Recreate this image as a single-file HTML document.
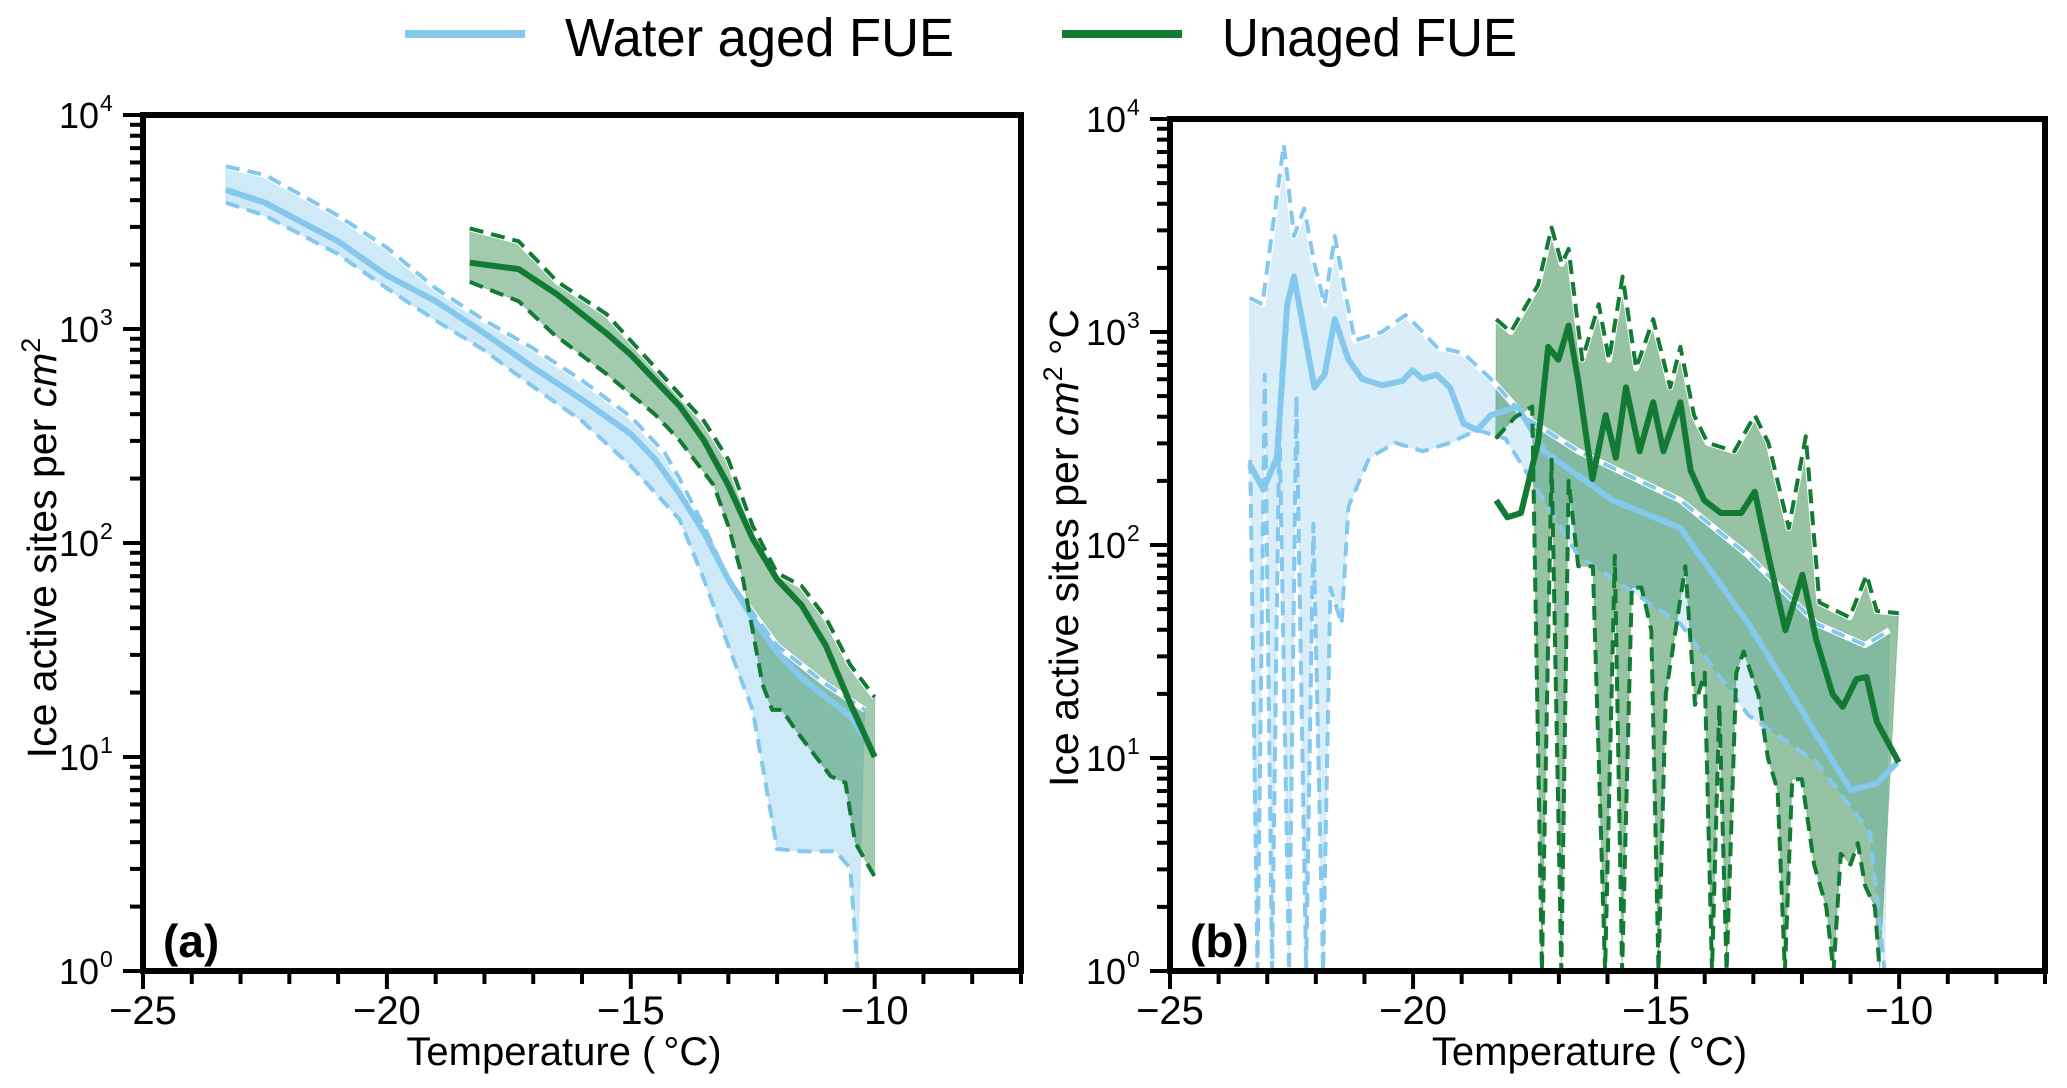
<!DOCTYPE html>
<html><head><meta charset="utf-8"><style>
html,body{margin:0;padding:0;background:#fff;}
svg{display:block;font-family:"Liberation Sans","DejaVu Sans",sans-serif;}
</style></head><body>
<svg id="fig" width="2067" height="1088" viewBox="0 0 2067 1088" xmlns="http://www.w3.org/2000/svg">
<g>
  <line x1="405" y1="34" x2="525" y2="34" stroke="#85c8ee" stroke-width="8"/>
  <text x="565" y="56" font-size="54" textLength="389" lengthAdjust="spacingAndGlyphs">Water aged FUE</text>
  <line x1="1062" y1="34" x2="1182" y2="34" stroke="#137a34" stroke-width="8"/>
  <text x="1222" y="56" font-size="54" textLength="295" lengthAdjust="spacingAndGlyphs">Unaged FUE</text>
</g>
<g id="pa"></g>
<g id="pb"></g>
</svg>
<script>
// ---------- data (log10 values; 0 => bottom of axis) ----------
const aBlueT   = [-23.3,-22.5,-21,-20,-19,-18,-17,-16,-15,-14.5,-14,-13.5,-13,-12.5,-12,-11.5,-11,-10.5,-10.2];
const aBlueMed = [3.65,3.59,3.41,3.25,3.13,2.98,2.82,2.67,2.51,2.39,2.23,2.05,1.83,1.65,1.49,1.37,1.28,1.19,1.09];
const aBlueUpT = [-23.3,-22.5,-21,-20,-19,-18,-17,-16,-15,-14.3,-14,-13.5,-13,-12,-11,-10.2];
const aBlueUp  = [3.76,3.72,3.53,3.38,3.19,3.04,2.91,2.76,2.59,2.42,2.30,2.08,1.83,1.52,1.34,1.22];
const aBlueLoT = [-23.3,-22.5,-21,-20,-19,-18,-17,-16,-15,-14,-13.5,-13,-12.5,-12,-11.5,-10.8,-10.5,-10.35];
const aBlueLo  = [3.59,3.53,3.35,3.19,3.04,2.90,2.73,2.57,2.36,2.11,1.83,1.52,1.22,0.57,0.56,0.56,0.48,0.0];
const aGrnT    = [-18.3,-17.3,-16.5,-15.5,-15,-14,-13.5,-13,-12.5,-12,-11.5,-11,-10.5,-10];
const aGrnMed  = [3.31,3.28,3.16,2.98,2.88,2.64,2.48,2.27,2.02,1.83,1.71,1.52,1.25,1.0];
const aGrnUpT  = [-18.3,-17.3,-16.5,-15.5,-14.5,-13.5,-13,-12.5,-12,-11.5,-11,-10.5,-10];
const aGrnUp   = [3.47,3.41,3.22,3.07,2.82,2.57,2.39,2.08,1.86,1.80,1.65,1.43,1.28];
const aGrnLoT  = [-18.3,-17.3,-16.6,-15.5,-14.5,-14,-13.3,-13,-12.7,-12.5,-12.3,-12.1,-11.9,-11.6,-11.2,-10.9,-10.6,-10.4,-10];
const aGrnLo   = [3.22,3.13,2.98,2.79,2.60,2.48,2.27,2.08,1.83,1.59,1.34,1.22,1.22,1.12,1.0,0.91,0.88,0.60,0.44];

const bBlueT   = [-23.36,-23.08,-22.8,-22.59,-22.45,-22.24,-22.03,-21.82,-21.61,-21.33,-21.05,-20.64,-20.22,-20.01,-19.8,-19.52,-19.24,-18.96,-18.68,-18.4,-17.85,-17.3,-15.9,-14.5,-13.1,-11.7,-11.0,-10.46,-10.04];
const bBlueMed = [2.38,2.26,2.41,3.13,3.26,3.0,2.74,2.8,3.06,2.87,2.78,2.75,2.77,2.82,2.78,2.8,2.74,2.57,2.54,2.61,2.65,2.44,2.21,2.08,1.63,1.11,0.85,0.88,0.98];
const bBlueUpT = [-23.36,-23.1,-22.87,-22.66,-22.45,-22.24,-22.03,-21.82,-21.61,-21.4,-21.2,-20.64,-20.15,-19.8,-19.52,-18.96,-18.4,-17.7,-16.6,-14.5,-13.1,-11.7,-10.7,-10.2];
const bBlueUp  = [3.16,3.13,3.52,3.88,3.45,3.58,3.32,3.13,3.45,3.19,2.96,3.0,3.08,3.0,2.93,2.9,2.78,2.6,2.44,2.21,1.95,1.63,1.53,1.6];
const bBlueLoT = [-23.35,-23.2,-23.05,-22.9,-22.75,-22.55,-22.4,-22.2,-22.05,-21.85,-21.7,-21.47,-21.33,-20.9,-20.36,-19.8,-19.24,-18.68,-18.1,-16.6,-14.5,-13.1,-11.7,-10.6,-10.3];
const bBlueLo  = [2.4,0,2.8,0,2.6,0,2.7,0,2.1,0,1.8,1.63,2.18,2.41,2.48,2.44,2.48,2.54,2.5,1.95,1.63,1.2,0.98,0.65,0];
const bGrnT    = [-18.29,-18.06,-17.78,-17.43,-17.22,-17.01,-16.8,-16.6,-16.31,-16.04,-15.83,-15.62,-15.34,-15.06,-14.85,-14.5,-14.29,-14.01,-13.67,-13.25,-12.97,-12.69,-12.34,-11.99,-11.71,-11.37,-11.16,-10.88,-10.67,-10.46,-10.01];
const bGrnMed  = [2.21,2.13,2.15,2.48,2.93,2.87,3.03,2.77,2.31,2.61,2.41,2.74,2.44,2.67,2.44,2.67,2.35,2.21,2.15,2.15,2.25,1.95,1.6,1.86,1.56,1.3,1.24,1.37,1.38,1.17,0.98];
const bGrnUpT  = [-18.29,-17.99,-17.43,-17.15,-16.94,-16.8,-16.52,-16.18,-15.97,-15.69,-15.41,-15.06,-14.71,-14.5,-14.22,-13.94,-13.39,-12.97,-12.69,-12.27,-11.92,-11.64,-11.02,-10.67,-10.46,-10.01];
const bGrnUp   = [3.06,3.0,3.22,3.49,3.32,3.39,2.87,3.13,2.87,3.26,2.83,3.06,2.74,2.93,2.61,2.48,2.44,2.61,2.48,2.08,2.51,1.73,1.66,1.86,1.69,1.68];
const bGrnLoT  = [-18.3,-17.9,-17.55,-17.35,-17.15,-16.95,-16.8,-16.6,-16.3,-16.05,-15.85,-15.7,-15.5,-15.3,-15.1,-14.95,-14.8,-14.6,-14.4,-14.2,-14.0,-13.85,-13.7,-13.55,-13.35,-13.2,-12.9,-12.7,-12.5,-12.35,-12.2,-12.0,-11.75,-11.5,-11.35,-11.2,-11.0,-10.85,-10.7,-10.5,-10.4];
const bGrnLo   = [2.5,2.6,2.65,0,2.4,0,2.3,1.9,1.9,0,1.95,0,1.8,1.8,1.6,0,1.3,1.6,1.9,1.25,1.4,0,1.25,0,1.4,1.5,1.3,1.0,0.85,0,0.9,0.9,0.5,0.3,0,0.55,0.5,0.6,0.4,0.3,0];

const xTickLabels = ["\u221225","\u221220","\u221215","\u221210"];
const xTickVals = [-25,-20,-15,-10];
const yTickExp = ["0","1","2","3","4"];

const NS="http://www.w3.org/2000/svg";
const BLUE="#85c8ee", GREEN="#137a34";
function mk(tag,attrs,parent){const e=document.createElementNS(NS,tag);for(const k in attrs)e.setAttribute(k,attrs[k]);parent.appendChild(e);return e;}

function panel(g,L,T,R,B,cfg){
  const xs=t=>L+(t+25)/18*(R-L);
  const ys=v=>B-Math.max(0,v)/4*(B-T);
  const path=(tt,vv)=>tt.map((t,i)=>(i?'L':'M')+xs(t).toFixed(1)+','+ys(vv[i]).toFixed(1)).join(' ');
  function band(tu,vu,tl,vl,col,name,op){
    let d=path(tu,vu);
    for(let i=tl.length-1;i>=0;i--) d+=' L'+xs(tl[i]).toFixed(1)+','+ys(vl[i]).toFixed(1);
    const p=mk('path',{d:d+'Z',fill:col,'fill-opacity':op,stroke:col,'stroke-opacity':0.25,'stroke-width':1},g);
    
    
  }
  function line(tt,vv,col,w,dash,name){
    const p=mk('path',{d:path(tt,vv),fill:'none',stroke:col,'stroke-width':w,'stroke-linejoin':'round'},g);
    if(dash)p.setAttribute('stroke-dasharray',dash);
    
    
  }
  cfg.series.forEach(s=>{ band(s.ut,s.u,s.lt,s.l,s.col,s.name+'-ensemble',s.op); });
  cfg.series.forEach(s=>{
    line(s.ut,s.u,'#fff',6,'',s.name+'-upper-halo');
    line(s.ut,s.u,s.col,4,'14 8',s.name+'-upper-bound');
    line(s.lt,s.l,s.col,4,'14 8',s.name+'-lower-bound');
    line(s.mt,s.m,s.col,6,'',s.name+'-median');
  });
  const f=mk('rect',{x:L,y:T,width:R-L,height:B-T,fill:'none',stroke:'#000','stroke-width':6},g);
  
  
  for(let t=-25;t<=-7;t++){
    const major=(t%5===0);
    const tk=mk('line',{x1:xs(t),y1:B,x2:xs(t),y2:B+(major?18:13),stroke:'#000','stroke-width':4},g);
    
    
  }
  xTickVals.forEach((v,i)=>{
    const tx=mk('text',{x:xs(v),y:B+53,'font-size':40,'text-anchor':'middle'},g);
    tx.textContent=xTickLabels[i];
    
    
  });
  for(let d=0;d<=4;d++){
    const y=ys(d);
    const tk=mk('line',{x1:L-20,y1:y,x2:L,y2:y,stroke:'#000','stroke-width':4},g);
    
    
    const tx=mk('text',{x:L-44,y:y+13,'font-size':36,'text-anchor':'end'},g);
    tx.textContent='10';
    
    
    const sp=mk('text',{x:L-43,y:y-4,'font-size':23,'text-anchor':'start'},g);
    sp.textContent=yTickExp[d];
    
    
    if(d<4){for(let m=2;m<=9;m++){
      const ym=ys(d+Math.log10(m));
      const mt=mk('line',{x1:L-13,y1:ym,x2:L,y2:ym,stroke:'#000','stroke-width':4},g);
      
      
    }}
  }
  const pl=mk('text',{x:L+20,y:B-14,'font-size':46,'font-weight':'bold'},g);
  pl.textContent=cfg.letter;
  
  
  const xt=mk('text',{x:(L+R)/2-18,y:B+94,'font-size':40,'text-anchor':'middle'},g);
  xt.textContent='Temperature (\u2009\u00B0C)';
  
  
  const yt=mk('text',{x:0,y:0,'font-size':41,'text-anchor':'middle',transform:'translate('+cfg.ytx+',548) rotate(-90)'},g);
  yt.innerHTML='Ice active sites per <tspan font-style="italic">cm</tspan><tspan dy="-16" font-size="27">2</tspan><tspan dy="16">'+cfg.ysuffix+'</tspan>';
  
  
}

panel(document.getElementById('pa'),143,115,1021,971,{letter:'(a)',ytx:56,ysuffix:'',series:[
  {name:'water-aged',col:BLUE,op:0.4,mt:aBlueT,m:aBlueMed,ut:aBlueUpT,u:aBlueUp,lt:aBlueLoT,l:aBlueLo},
  {name:'unaged',col:GREEN,op:0.4,mt:aGrnT,m:aGrnMed,ut:aGrnUpT,u:aGrnUp,lt:aGrnLoT,l:aGrnLo}
]});
panel(document.getElementById('pb'),1170,119,2045,971,{letter:'(b)',ytx:1078,ysuffix:' \u00B0C',series:[
  {name:'water-aged',col:BLUE,op:0.3,mt:bBlueT,m:bBlueMed,ut:bBlueUpT,u:bBlueUp,lt:bBlueLoT,l:bBlueLo},
  {name:'unaged',col:GREEN,op:0.45,mt:bGrnT,m:bGrnMed,ut:bGrnUpT,u:bGrnUp,lt:bGrnLoT,l:bGrnLo}
]});
</script>
</body></html>
